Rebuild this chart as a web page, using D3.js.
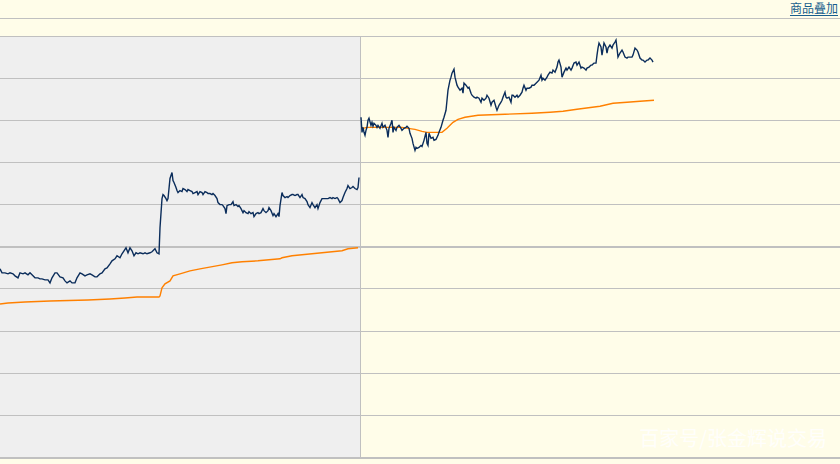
<!DOCTYPE html>
<html>
<head>
<meta charset="utf-8">
<script src="https://cdn.jsdelivr.net/npm/d3@7"></script>
<style>
body { margin: 0; background: #fffde9; }
svg { display: block; }
</style>
</head>
<body>
<script>
// minutes from start of the two sessions (180 minutes each shown), points vs. previous close
var prevPrice = [[0,-22],[1,-26],[2.5,-26],[4,-27],[5,-26],[6.5,-27],[7.5,-29],[9,-31],[10,-26],[11.5,-27],[12.5,-26],[14,-28],[15,-26],[16.5,-29],[17.5,-31],[19,-31],[20,-32],[21,-32],[22.5,-33],[24,-33],[25,-36],[26,-31],[27.5,-26],[28.5,-26],[30,-30],[31.5,-31],[32.5,-34],[33.5,-36],[35,-34],[36,-36],[37.5,-36],[38.5,-31],[40,-26],[41,-27],[42.5,-29],[43.5,-28],[45,-27],[46,-28],[47.5,-30],[48.5,-30],[50,-27],[51,-26],[52.5,-22],[53.5,-21],[55,-17],[56,-14],[57.5,-12],[58.5,-9],[60,-11],[61,-7],[62,-4],[63,-1],[64,-6],[65,-1],[66,-4],[67,-9],[68,-6],[69,-7],[70,-6],[71.5,-7],[72.5,-6],[73.5,-7],[75,-6],[76,-5],[77.5,-2],[78.5,-6],[79.5,-7],
  [80,19],[81,48],[81.5,52],[82,51],[83,48],[83.5,46],[84,48],[84.5,58],[85,68],[86,74],[86.5,66],[87,64],[88,59],[88.5,56],[89,54],[90,56],[91,55],[91.5,58],[92.5,57],[93.5,55],[94,57],[95,56],[96,55],[96.5,53],[97.5,54],[98.5,55],[99,52],[100,55],[101,54],[101.5,52],[102.5,55],[103.5,54],[104,53],[105,53],[106,52],[106.5,53],[107.5,51],[108.5,48],[109,44],[110,42],[111,42],[111.5,41],[112.5,38],[113,33],[113.5,41],[114.5,42],[115.5,42],[116.5,45],[117,41],[118,42],[119,40],[119.5,41],[120.5,38],[121.5,34],[122,36],[123,34],[124,33],[124.5,35],[125.5,33],[126.5,34],[127,30],[128,33],[129,34],[129.5,33],[130.5,34],[131.5,38],[132,36],[133,34],[134,36],[134.5,39],[135.5,36],[136.5,31],[137,33],[138,30],[139,33],[139.5,30],
  [140,41],[141,54],[141.5,51],[142.5,49],[143.5,50],[144,49],[145,51],[146,52],[146.5,52],[147.5,51],[148.5,52],[149,52],[150,49],[151,52],[151.5,49],[152.5,48],[153.5,45],[154,42],[155,39],[156,44],[156.5,42],[157.5,39],[158.5,42],[159,38],[160,44],[161,48],[161.5,48],[162.5,48],[163.5,48],[164,48],[165,49],[166,48],[166.5,49],[167.5,48],[168.5,49],[169,48],[170,44],[171,46],[171.5,49],[172.5,54],[173.5,58],[174,61],[175,58],[176,59],[176.5,60],[177.5,58],[178.5,57],[179,59],[179.5,69]];

var prevAvg = [[0,-57],[4,-56],[12.5,-55],[25,-54],[44,-53],[55,-52],[62.5,-51],[68.5,-50],[79.5,-50],[80,-49],[81,-41],[82.5,-37],[85,-34],[86.5,-29],[90,-27],[95,-24],[100,-22],[111,-18],[116,-16],[121,-15],[129,-14],[140,-12],[141,-11],[146,-9],[156,-7],[161,-6],[171,-4],[174,-2],[179,-1]];

var todayPrice = [[180.5,129],[181,114],[181.5,119],[182,114],[182.5,111],[183,116],[183.5,119],[184,126],[184.5,128],[185.5,121],[186,124],[186.5,120],[187,123],[188,121],[188.5,119],[189,121],[190,118],[191,123],[191.5,119],[192.5,121],[193.5,116],[194,109],[194.5,118],[195.5,123],[196,126],[196.5,114],[197,119],[198,116],[198.5,119],[199.5,121],[200.5,118],[201,116],[202,118],[203,119],[203.5,120],[204.5,118],[205,113],[206,108],[206.5,103],[207.5,96],[208,99],[208.5,98],[209.5,99],[210.5,101],[211,100],[212,106],[213,114],[213.5,103],[214,101],[214.5,113],[215.5,108],[216.5,109],[217,106],[218,107],[219,111],[219.5,114],[220.5,119],[221.5,126],[222,129],[223,136],[223.5,146],[224,156],[225,166],[225.5,169],[226,173],[227,177],[227.5,169],[228.5,161],[229,159],[230,156],[231,158],[231.5,153],[232,163],[233,161],[234,158],[234.5,159],[235.5,153],[236,151],[237,149],[238,148],[238.5,149],[239.5,148],[240.5,144],[241,148],[242,146],[243,148],[243.5,151],[244.5,148],[245.5,141],[246,144],[247,146],[248,139],[248.5,136],[249.5,141],[250.5,144],[251,146],[251.5,149],[252.5,154],[253,149],[253.5,148],[254.5,149],[255.5,144],[256,151],[256.5,151],[257.5,149],[258.5,151],[259,149],[260,151],[261,154],[261.5,158],[262,161],[263,156],[263.5,158],[264.5,158],[265.5,159],[266,161],[267,161],[268,163],[268.5,164],[269.5,166],[270.5,171],[271,166],[271.5,168],[272.5,166],[273.5,169],[274,171],[275,174],[276,173],[276.5,176],[277.5,174],[278.5,179],[279,184],[279.5,186],[280.5,179],[281,169],[282,174],[283,178],[283.5,176],[284.5,179],[285.5,176],[286,178],[287,183],[288,184],[288.5,181],[289.5,184],[290.5,178],[291,179],[292,178],[293,176],[293.5,178],[294.5,179],[295.5,181],[296,181],[297,183],[298,183],[298.5,191],[299,198],[299.5,203],[300.5,199],[301,191],[302,203],[303,199],[303.5,193],[304,198],[305,201],[306,198],[306.5,201],[307.5,204],[308,206],[308.5,198],[309,189],[310,193],[311,196],[311.5,194],[312.5,189],[313.5,188],[314,189],[315,189],[316,189],[316.5,191],[317.5,198],[318.5,196],[319,194],[320,188],[321,186],[321.5,186],[322.5,184],[323.5,186],[324,186],[325,188],[326,186],[326.5,184]];

var todayAvg = [[181,119],[181.5,118],[183.5,119],[201,119],[204,118],[207.5,117],[211,115],[213.5,114],[221,114],[223.5,118],[225,121],[226.5,124],[229,127],[232.5,129],[239,131],[252.5,132],[266,133],[275,134],[281.5,135],[288.5,137],[300,140],[306.5,143],[313.5,144],[320,145],[327,146]];

var gridTicks = [-210, -168, -126, -84, -42, 0, 42, 84, 126, 168, 210];
var sessionBreak = 180;
var linkLabel = "商品叠加";
var watermark = "百家号/张金辉说交易";

var w = 840;
var h = 464;

var x = d3.scaleLinear().domain([0, 420]).range([0, 840]);
var y = d3.scaleLinear().domain([-210, 210]).range([457.5, 36]);

var svg = d3.select("body")
    .append("svg")
    .attr("width", w)
    .attr("height", h);

svg.append("rect")
    .attr("width", w)
    .attr("height", h)
    .attr("fill", "#fffde9");

// previous session shaded
svg.append("rect")
    .attr("x", 0)
    .attr("y", y(210))
    .attr("width", x(sessionBreak))
    .attr("height", y(-210) - y(210))
    .attr("fill", "#efefef");

// header line
svg.append("line")
    .attr("x1", 0).attr("x2", w)
    .attr("y1", 18.5).attr("y2", 18.5)
    .attr("stroke", "#c0c0c0");

svg.selectAll("line.grid")
    .data(gridTicks)
    .enter()
    .append("line")
    .attr("class", "grid")
    .attr("x1", 0).attr("x2", w)
    .attr("y1", function (d) {
        if (d === 0 || d === -210) return Math.round(y(d));
        return Math.floor(y(d)) + 0.5;
    })
    .attr("y2", function (d) {
        if (d === 0 || d === -210) return Math.round(y(d));
        return Math.floor(y(d)) + 0.5;
    })
    .attr("stroke", "#c0c0c0")
    .attr("stroke-width", function (d) {
        return (d === 0 || d === -210) ? 2 : 1;
    });

svg.append("line")
    .attr("x1", x(sessionBreak) + 0.5).attr("x2", x(sessionBreak) + 0.5)
    .attr("y1", y(210)).attr("y2", y(-210))
    .attr("stroke", "#c0c0c0");

var line = d3.line()
    .x(function (d) { return x(d[0]); })
    .y(function (d) { return y(d[1]); });

var series = [
    {data: prevAvg, color: "#ff8000"},
    {data: todayAvg, color: "#ff8000"},
    {data: prevPrice, color: "#0b2d5b"},
    {data: todayPrice, color: "#0b2d5b"}
];

svg.selectAll("path.series")
    .data(series)
    .enter()
    .append("path")
    .attr("class", "series")
    .attr("d", function (d) { return line(d.data); })
    .attr("fill", "none")
    .attr("stroke", function (d) { return d.color; })
    .attr("stroke-width", 1.4);

// link text top right
var lbl = svg.append("text")
    .attr("x", 838)
    .attr("y", 13)
    .attr("text-anchor", "end")
    .attr("font-family", "Noto Sans CJK SC")
    .attr("font-size", 12)
    .attr("fill", "#175d8d")
    .text(linkLabel);
var bb = lbl.node().getBBox();
svg.append("line")
    .attr("x1", bb.x).attr("x2", bb.x + bb.width)
    .attr("y1", 15.5).attr("y2", 15.5)
    .attr("stroke", "#175d8d");

svg.append("text")
    .attr("x", 827)
    .attr("y", 446)
    .attr("text-anchor", "end")
    .attr("font-family", "Noto Sans CJK SC")
    .attr("font-size", 20)
    .attr("fill", "#ffffff")
    .attr("fill-opacity", 0.85)
    .text(watermark);
</script>
</body>
</html>
